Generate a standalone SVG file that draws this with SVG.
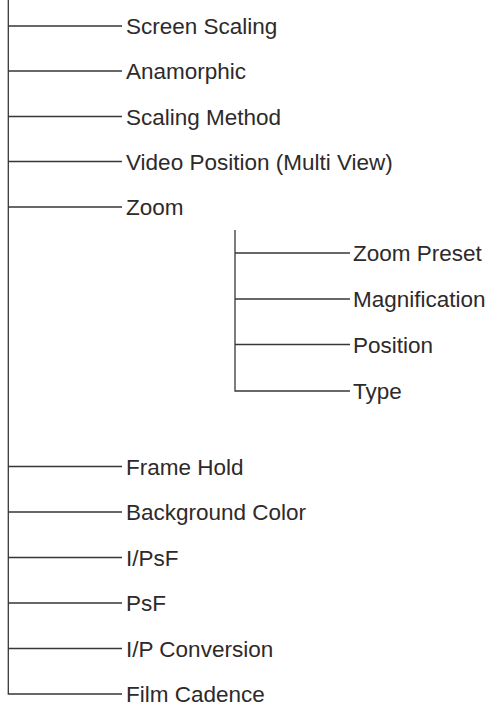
<svg xmlns="http://www.w3.org/2000/svg" width="492" height="706" viewBox="0 0 492 706">
<style>
.c{stroke:#3a3636;stroke-width:1.3;fill:none}
.t{font-family:"Liberation Sans",Arial,sans-serif;font-size:22.5px;fill:#2e2a2a}
</style>
<rect width="492" height="706" fill="#fff"/>
<g id="connectors">
<path class="c" d="M8.3,0V694H122"/>
<path class="c" d="M8.3,26H122M8.3,71H122M8.3,116.5H122M8.3,161.5H122M8.3,207H122"/>
<path class="c" d="M8.3,466.5H122M8.3,512H122M8.3,557.5H122M8.3,603H122M8.3,648.5H122"/>
<path class="c" d="M235,230V391H350M235,253H350M235,299H350M235,344.5H350"/>
</g>
<g id="n-screen-scaling"><text class="t" x="126" y="34">Screen Scaling</text></g>
<g id="n-anamorphic"><text class="t" x="126" y="79">Anamorphic</text></g>
<g id="n-scaling-method"><text class="t" x="126" y="124.5">Scaling Method</text></g>
<g id="n-video-position"><text class="t" x="126" y="169.5">Video Position (Multi View)</text></g>
<g id="n-zoom"><text class="t" x="126" y="215">Zoom</text></g>
<g id="n-zoom-preset"><text class="t" x="353" y="261">Zoom Preset</text></g>
<g id="n-magnification"><text class="t" x="353" y="307">Magnification</text></g>
<g id="n-position"><text class="t" x="353" y="352.5">Position</text></g>
<g id="n-type"><text class="t" x="353" y="399">Type</text></g>
<g id="n-frame-hold"><text class="t" x="126" y="474.5">Frame Hold</text></g>
<g id="n-background-color"><text class="t" x="126" y="520">Background Color</text></g>
<g id="n-ipsf"><text class="t" x="126" y="565.5">I/PsF</text></g>
<g id="n-psf"><text class="t" x="126" y="611">PsF</text></g>
<g id="n-ip-conversion"><text class="t" x="126" y="656.5">I/P Conversion</text></g>
<g id="n-film-cadence"><text class="t" x="126" y="702">Film Cadence</text></g>
</svg>
